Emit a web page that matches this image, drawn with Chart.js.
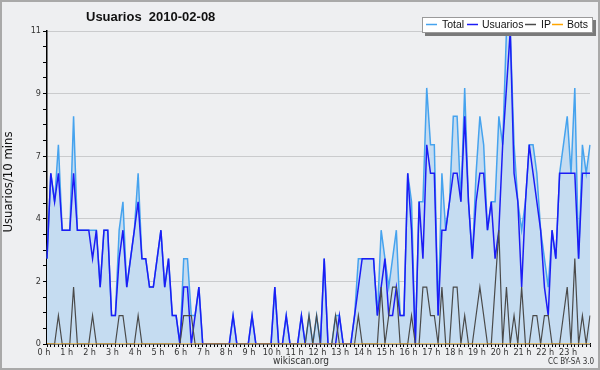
<!DOCTYPE html>
<html lang="en">
    <head>
        <meta charset="utf-8" />
        <title>Usuarios 2010-02-08</title>
        <script src="https://cdnjs.cloudflare.com/ajax/libs/Chart.js/4.4.0/chart.umd.js"></script>
        <style>
            body { margin: 0; }
            #wrap { width: 600px; height: 370px; }
        </style>
    </head>
<body>
    <div id="wrap"><canvas id="chart"></canvas></div>
    <script>
        // one value every 10 minutes, 00:00 -> 23:50
        const total = [
            3, 6, 5, 7, 4, 4, 4, 8, 4, 4, 4, 4, 4, 4, 2, 4, 4, 1, 1, 4, 5, 2, 3, 4,
            6, 3, 3, 2, 2, 3, 4, 2, 3, 1, 1, 0, 3, 3, 1, 1, 2, 0, 0, 0, 0, 0, 0, 0,
            0, 1, 0, 0, 0, 0, 1, 0, 0, 0, 0, 0, 2, 0, 0, 1, 0, 0, 0, 1, 0, 1, 0, 1,
            0, 3, 0, 0, 1, 1, 0, 0, 0, 1, 3, 3, 3, 3, 3, 1, 4, 3, 2, 3, 4, 1, 1, 6,
            5, 0, 5, 5, 9, 7, 7, 1, 6, 4, 5, 8, 8, 5, 9, 5, 3, 6, 8, 7, 4, 5, 5, 8,
            7, 11, 11, 7, 5, 4, 5, 7, 7, 6, 4, 3, 2, 4, 3, 6, 7, 8, 6, 9, 3, 7, 6, 7
        ];
        const usuarios = [
            3, 6, 5, 6, 4, 4, 4, 6, 4, 4, 4, 4, 3, 4, 2, 4, 4, 1, 1, 3, 4, 2, 3, 4,
            5, 3, 3, 2, 2, 3, 4, 2, 3, 1, 1, 0, 2, 2, 0, 1, 2, 0, 0, 0, 0, 0, 0, 0,
            0, 1, 0, 0, 0, 0, 1, 0, 0, 0, 0, 0, 2, 0, 0, 1, 0, 0, 0, 1, 0, 0, 0, 0,
            0, 3, 0, 0, 0, 1, 0, 0, 0, 1, 2, 3, 3, 3, 3, 1, 2, 3, 1, 1, 2, 1, 1, 6,
            4, 0, 5, 3, 7, 6, 6, 1, 4, 4, 5, 6, 6, 5, 8, 5, 3, 5, 6, 6, 4, 5, 3, 4,
            7, 9, 11, 6, 5, 2, 5, 7, 6, 5, 4, 2, 1, 4, 3, 6, 6, 6, 6, 6, 3, 6, 6, 6
        ];
        const ip = [
            0, 0, 0, 1, 0, 0, 0, 2, 0, 0, 0, 0, 1, 0, 0, 0, 0, 0, 0, 1, 1, 0, 0, 0,
            1, 0, 0, 0, 0, 0, 0, 0, 0, 0, 0, 0, 1, 1, 1, 0, 0, 0, 0, 0, 0, 0, 0, 0,
            0, 0, 0, 0, 0, 0, 0, 0, 0, 0, 0, 0, 0, 0, 0, 0, 0, 0, 0, 0, 0, 1, 0, 1,
            0, 0, 0, 0, 1, 0, 0, 0, 0, 0, 1, 0, 0, 0, 0, 0, 2, 0, 1, 2, 2, 0, 0, 0,
            1, 0, 0, 2, 2, 1, 1, 0, 2, 0, 0, 2, 2, 0, 1, 0, 0, 1, 2, 1, 0, 0, 2, 4,
            0, 2, 0, 1, 0, 2, 0, 0, 1, 1, 0, 1, 1, 0, 0, 0, 1, 2, 0, 3, 0, 1, 0, 1
        ];
        const bots = new Array(144).fill(0);

        const hourLabels = ['0 h', '1 h', '2 h', '3 h', '4 h', '5 h', '6 h', '7 h', '8 h', '9 h', '10 h', '11 h',
            '12 h', '13 h', '14 h', '15 h', '16 h', '17 h', '18 h', '19 h', '20 h', '21 h', '22 h', '23 h'];
        const yTickLabels = ['0', '2', '4', '7', '9', '11'];

        const slots = [];
        for (let h = 0; h < 24; h++) {
            for (let m = 0; m < 60; m += 10) {
                slots.push(String(h).padStart(2, '0') + ':' + String(m).padStart(2, '0'));
            }
        }

        const font = "'DejaVu Sans Condensed', 'DejaVu Sans', sans-serif";
        const sans = "'Liberation Sans', Arial, sans-serif";

        // background, frame, title, footer and the boxed legend
        const decor = {
            id: 'decor',
            beforeDraw(chart) {
                const c = chart.ctx;
                c.save();
                c.fillStyle = '#eeeff1';
                c.fillRect(0, 0, chart.width, chart.height);
                c.strokeStyle = '#a9a9a9';
                c.lineWidth = 2;
                c.strokeRect(1, 1, chart.width - 2, chart.height - 2);
                c.restore();
            },
            afterDraw(chart) {
                const c = chart.ctx;
                c.save();
                c.fillStyle = '#111';
                c.textBaseline = 'middle';
                c.font = 'bold 13px ' + sans;
                c.fillText('Usuarios  2010-02-08', 86, 17);

                c.fillStyle = '#333';
                c.font = '10px ' + font;
                c.textAlign = 'center';
                c.fillText('wikiscan.org', 301, 361);
                c.font = '8px ' + font;
                c.fillText('CC BY-SA 3.0', 571, 362);

                c.save();
                c.translate(9, 182);
                c.rotate(-Math.PI / 2);
                c.font = '13px ' + font;
                c.fillStyle = '#111';
                c.fillText('Usuarios/10 mins', 0, 0);
                c.restore();

                // legend
                c.fillStyle = '#7a7a7a';
                c.fillRect(425, 20, 171, 16);
                c.fillStyle = '#fff';
                c.fillRect(422, 17, 171, 16);
                c.strokeStyle = '#9a9a9a';
                c.lineWidth = 1;
                c.strokeRect(422.5, 17.5, 170, 15);
                const items = [[426, 442], [467, 482], [525, 541], [552, 567]];
                c.textAlign = 'left';
                c.font = '10.5px ' + sans;
                chart.data.datasets.forEach((ds, i) => {
                    const [lx, tx] = items[i];
                    c.strokeStyle = ds.borderColor;
                    c.lineWidth = 1.5;
                    c.beginPath();
                    c.moveTo(lx, 24.5);
                    c.lineTo(lx + 11, 24.5);
                    c.stroke();
                    c.fillStyle = '#111';
                    c.fillText(ds.label, tx, 25);
                });
                c.restore();
            }
        };

        const ctx = document.getElementById('chart').getContext('2d');
        new Chart(ctx, {
            type: 'line',
            data: {
                labels: slots,
                datasets: [
                    { label: 'Total', data: total, borderColor: '#46a3ee', backgroundColor: '#c5dcf1', fill: 'origin', borderWidth: 1.5, order: 4 },
                    { label: 'Usuarios', data: usuarios, borderColor: '#1c1cf5', borderWidth: 1.5, fill: false, order: 3 },
                    { label: 'IP', data: ip, borderColor: '#4a4a4a', borderWidth: 1.2, fill: false, order: 2 },
                    { label: 'Bots', data: bots, borderColor: '#ffa500', borderWidth: 1.2, fill: false, order: 1 }
                ]
            },
            options: {
                responsive: true,
                maintainAspectRatio: false,
                animation: false,
                layout: { padding: { top: 31, right: 10, left: 0, bottom: 0 } },
                elements: { point: { radius: 0 }, line: { tension: 0 } },
                plugins: { legend: { display: false }, tooltip: { enabled: false } },
                scales: {
                    x: {
                        z: 1,
                        afterFit: s => { s.height = 26; },
                        border: { display: true, color: '#000', width: 1.5 },
                        grid: { drawOnChartArea: false, drawTicks: true, tickLength: 3, tickColor: '#000' },
                        ticks: {
                            autoSkip: false,
                            maxRotation: 0,
                            padding: 0,
                            labelOffset: -3,
                            color: '#333',
                            font: { family: font, size: 9 },
                            callback: (v, i) => (i % 6 === 0 ? hourLabels[i / 6] : '')
                        }
                    },
                    y: {
                        z: 1,
                        min: 0,
                        max: 11,
                        afterFit: s => { s.width = 47; },
                        afterBuildTicks: s => {
                            const t = [];
                            for (let k = 0; k <= 20; k++) t.push({ value: k * 0.55 });
                            s.ticks = t;
                        },
                        border: { display: true, color: '#000', width: 1.5 },
                        grid: {
                            color: c => (c.index % 4 === 0 && c.index > 0 ? 'rgba(0,0,0,0.15)' : 'transparent'),
                            tickColor: '#000',
                            tickLength: 4,
                            drawTicks: true
                        },
                        ticks: {
                            autoSkip: false,
                            padding: 2,
                            color: '#333',
                            font: { family: font, size: 9 },
                            callback: (v, i) => (i % 4 === 0 ? yTickLabels[i / 4] : '')
                        }
                    }
                }
            },
            plugins: [decor]
        });
    </script>
</body>
</html>
